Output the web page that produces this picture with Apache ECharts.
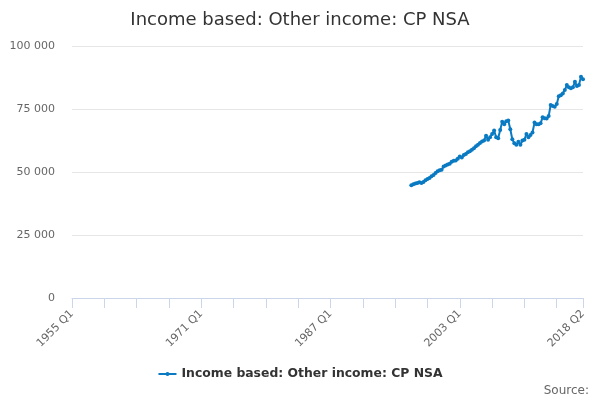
<!DOCTYPE html>
<html>
<head>
<meta charset="utf-8">
<script src="https://cdn.jsdelivr.net/npm/echarts@6/dist/echarts.min.js"></script>
<style>
html,body{margin:0;padding:0;background:#fff;}
#chart{width:600px;height:400px;}
</style>
</head>
<body>
<div id="chart"></div>
<script>
// Category range (quarterly)
var firstYear = 1955;
var lastYear = 2018;
var lastQuarter = 2;
var quarterNames = ["Q1", "Q2", "Q3", "Q4"];
// Series starts at 1997 Q1
var seriesStart = "1997 Q1";
var seriesName = "Income based: Other income: CP NSA";
var values = [
  44700, 45100, 45400, 45600,
  45900, 45600, 46000, 46700,
  47200, 47600, 48300, 48800,
  49600, 50300, 50700, 50900,
  52200, 52600, 53000, 53300,
  54100, 54500, 54600, 55300,
  56200, 55800, 56700, 57100,
  57800, 58200, 58800, 59400,
  60200, 60800, 61500, 62100,
  62500, 64400, 62800, 63800,
  65100, 66500, 63800, 63400,
  66700, 69900, 68900, 70100,
  70400, 67000, 63000, 61400,
  60800, 62000, 60800, 62500,
  62800, 65100, 63800, 64700,
  65700, 69600, 68900, 68900,
  69300, 71700, 71300, 71200,
  72200, 76600, 76200, 75900,
  77000, 80100, 80500, 81200,
  82500, 84500, 83600, 83200,
  83600, 85800, 84100, 84500,
  87800, 86800
];
var yTicks = [0, 25000, 50000, 75000, 100000];

var categories = [];
for (var y = firstYear; y <= lastYear; y++) {
  for (var q = 0; q < 4; q++) {
    if (y === lastYear && q >= lastQuarter) break;
    categories.push(y + " " + quarterNames[q]);
  }
}
var startIdx = categories.indexOf(seriesStart);
var seriesData = categories.map(function (c, i) {
  var k = i - startIdx;
  return (k >= 0 && k < values.length) ? values[k] : null;
});
var lastIdx = categories.length - 1;

function fmt(v) {
  return String(v).replace(/\B(?=(\d{3})+(?!\d))/g, " ");
}

var chart = echarts.init(document.getElementById('chart'));
chart.setOption({
  animation: false,
  backgroundColor: '#ffffff',
  title: {
    text: seriesName,
    left: 'center',
    top: 6,
    textStyle: { fontFamily: 'DejaVu Sans', fontSize: 18, fontWeight: 'normal', color: '#333333' }
  },
  grid: { left: 72, right: 17, top: 46, bottom: 102, containLabel: false },
  legend: {
    bottom: 15,
    left: 'center',
    itemWidth: 18,
    itemHeight: 5,
    itemGap: 10,
    textStyle: { fontFamily: 'DejaVu Sans', fontSize: 12.4, fontWeight: 'bold', color: '#333333' },
    data: [seriesName]
  },
  graphic: [{
    type: 'text',
    right: 11,
    bottom: 3,
    style: { text: 'Source:', fontFamily: 'DejaVu Sans', fontSize: 12, fill: '#666666' }
  }],
  xAxis: {
    type: 'category',
    data: categories,
    boundaryGap: false,
    axisLine: { lineStyle: { color: '#ccd6eb' } },
    axisTick: {
      length: 10,
      lineStyle: { color: '#ccd6eb' },
      interval: function (i) { return i % 16 === 0 || i === lastIdx; }
    },
    axisLabel: {
      rotate: 45,
      margin: 14,
      fontFamily: 'DejaVu Sans',
      fontSize: 11,
      color: '#666666',
      interval: function (i) { return i % 64 === 0 || i === lastIdx; }
    },
    splitLine: { show: false }
  },
  yAxis: {
    type: 'value',
    min: yTicks[0],
    max: yTicks[yTicks.length - 1],
    interval: 25000,
    axisLine: { show: false },
    axisTick: { show: false },
    axisLabel: {
      margin: 17,
      fontFamily: 'DejaVu Sans',
      fontSize: 11,
      color: '#666666',
      formatter: fmt
    },
    splitLine: { lineStyle: { color: '#e6e6e6' } }
  },
  series: [{
    name: seriesName,
    type: 'line',
    data: seriesData,
    connectNulls: false,
    symbol: 'circle',
    symbolSize: 4,
    showSymbol: true,
    showAllSymbol: true,
    color: '#0a7ac2',
    lineStyle: { width: 2, color: '#0a7ac2' },
    itemStyle: { color: '#0a7ac2' }
  }]
});
</script>
</body>
</html>
